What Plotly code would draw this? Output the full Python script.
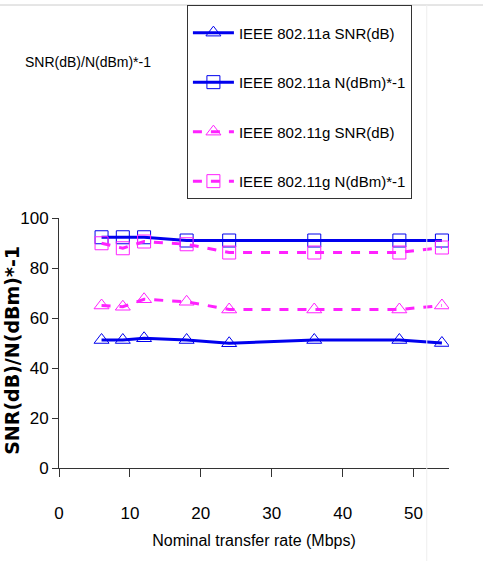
import plotly.graph_objects as go

rates = [6, 9, 12, 18, 24, 36, 48, 54]
a_snr = [51.2, 51.2, 51.9, 51.2, 49.9, 51.2, 51.2, 50.0]
a_noise = [92.3, 92.3, 92.3, 91.0, 91.0, 91.0, 91.0, 91.0]
g_snr = [65.0, 64.5, 67.5, 66.5, 63.4, 63.4, 63.4, 65.0]
g_noise = [89.9, 87.9, 90.6, 89.5, 86.2, 86.2, 86.2, 88.2]
names = ["IEEE 802.11a SNR(dB)", "IEEE 802.11a N(dBm)*-1",
         "IEEE 802.11g SNR(dB)", "IEEE 802.11g N(dBm)*-1"]
y_title = "SNR(dB)/N(dBm)*-1"

BLUE = "#0000EE"
MAG = "#FF22FF"
SANS = "Liberation Sans, Arial, sans-serif"

series = [
    (a_snr, names[0], BLUE, "solid", "triangle-up-open"),
    (a_noise, names[1], BLUE, "solid", "square-open"),
    (g_snr, names[2], MAG, "dash", "triangle-up-open"),
    (g_noise, names[3], MAG, "dash", "square-open"),
]

fig = go.Figure()
for i, (vals, nm, col, dash, sym) in enumerate(series):
    fig.add_trace(go.Scatter(
        x=rates, y=vals, name=nm, mode="lines+markers",
        legendgroup=str(i),
        line=dict(color=col, width=3, dash=dash),
        marker=dict(symbol=sym, size=13, color=col, line=dict(color=col, width=1)),
    ))

fig.update_layout(
    width=483, height=561,
    margin=dict(l=59, r=34, t=218, b=93, autoexpand=False),
    paper_bgcolor="white", plot_bgcolor="white",
    font=dict(family=SANS, size=15, color="black"),
    showlegend=True,
    legend=dict(
        x=0.328, y=1.852, xanchor="left", yanchor="top",
        bordercolor="#333333", borderwidth=1, bgcolor="white",
        font=dict(family=SANS, size=15, color="black"),
        title=dict(text=" ", font=dict(size=8)),
        traceorder="grouped", tracegroupgap=27,
        itemwidth=41,
    ),
    xaxis=dict(
        range=[0, 55], tickvals=[0, 10, 20, 30, 40, 50],
        showgrid=False, zeroline=False, automargin=False,
        showline=True, linecolor="#333333", linewidth=1,
        ticks="outside", ticklen=8, tickcolor="#333333",
        ticklabelstandoff=22,
        tickfont=dict(family=SANS, size=17),
        title=dict(text="Nominal transfer rate (Mbps)",
                   font=dict(family=SANS, size=16), standoff=12),
    ),
    yaxis=dict(
        range=[0, 100], tickvals=[0, 20, 40, 60, 80, 100],
        showgrid=False, zeroline=False, automargin=False,
        showline=True, linecolor="#333333", linewidth=1,
        ticks="outside", ticklen=6, tickcolor="#333333",
        tickfont=dict(family=SANS, size=17),
    ),
    annotations=[
        dict(
            text="SNR(dB)/N(dBm)*-1", xref="paper", yref="paper",
            x=-0.092, y=1.624, xanchor="left", yanchor="middle", showarrow=False,
            font=dict(family=SANS, size=14, color="black"),
        ),
        dict(
            text="<b>" + y_title + "</b>", xref="paper", yref="paper",
            x=-0.121, y=0.472, xanchor="center", yanchor="middle",
            textangle=-90, showarrow=False,
            font=dict(family="DejaVu Sans, sans-serif", size=19, color="black"),
        ),
    ],
    shapes=[
        dict(type="line", xref="paper", yref="paper", x0=-0.2, x1=1.2,
             y0=1.852, y1=1.852, line=dict(color="#cccccc", width=1)),
        dict(type="line", xref="paper", yref="paper", x0=0.943, x1=0.943,
             y0=-0.4, y1=1.852, line=dict(color="#eeeeee", width=1)),
    ],
)

fig.write_html("out.html")
